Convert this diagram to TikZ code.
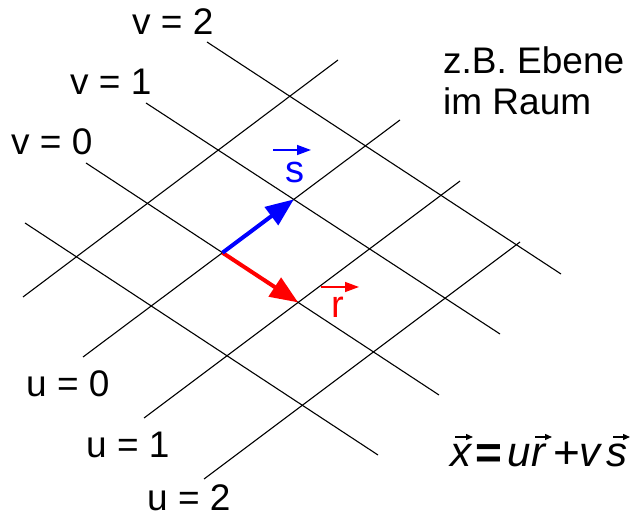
\documentclass[tikz,border=0pt]{standalone}
\usepackage{fontspec}
\setmainfont{Liberation Sans}
\usetikzlibrary{arrows.meta}
\begin{document}
\begin{tikzpicture}[x=1pt,y=-1pt,
  gridline/.style={line width=1.1pt, black},
  lbl/.style={anchor=base west, inner sep=0pt, font=\fontsize{37}{42}\selectfont},
  biglbl/.style={anchor=base west, inner sep=0pt, font=\fontsize{38}{44}\selectfont},
  formlbl/.style={anchor=base west, inner sep=0pt, font=\fontsize{42}{48}\selectfont},
  bigvec/.style={line width=4pt, -{Triangle[length=28pt,width=22pt]}},
  smallvec/.style={line width=1.4pt, -{Triangle[length=14pt,width=10pt]}},
  tinyvec/.style={line width=1.3pt, -{Triangle[length=7pt,width=6pt]}}]
\useasboundingbox (0,0) rectangle (632,518);

% grid line end points
\coordinate (v2a) at (207,42);  \coordinate (v2b) at (561,274);
\coordinate (v1a) at (146,103); \coordinate (v1b) at (500,334);
\coordinate (v0a) at (86,163);  \coordinate (v0b) at (439,395);
\coordinate (vma) at (25,223);  \coordinate (vmb) at (378,455);
\coordinate (uma) at (23,297);  \coordinate (umb) at (338,60);
\coordinate (u0a) at (83,357);  \coordinate (u0b) at (400,120);
\coordinate (u1a) at (144,418); \coordinate (u1b) at (460,181);
\coordinate (u2a) at (204,479); \coordinate (u2b) at (520,242);

\foreach \a/\b in {v2a/v2b,v1a/v1b,v0a/v0b,vma/vmb,uma/umb,u0a/u0b,u1a/u1b,u2a/u2b}
  \draw[gridline] (\a) -- (\b);

\coordinate (O) at (intersection of v0a--v0b and u0a--u0b);
\coordinate (S) at (intersection of v1a--v1b and u0a--u0b);
\coordinate (R) at (intersection of v0a--v0b and u1a--u1b);

\draw[bigvec, red] (O) -- (R);
\draw[bigvec, blue] (O) -- (S);

% labels
\node[lbl] (lv2) at (132,35) {v = 2};
\node[lbl] (lv1) at (70,95) {v = 1};
\node[lbl] (lv0) at (11,155) {v = 0};
\node[lbl] (lu0) at (26,397) {u = 0};
\node[lbl] (lu1) at (86,457) {u = 1};
\node[lbl] (lu2) at (147,510) {u = 2};

\node[lbl] (zb) at (443,74) {z.B. Ebene};
\node[lbl] (raum) at (443,115) {im Raum};

% vector labels
\node[biglbl, text=blue] (slbl) at (285,183) {s};
\coordinate (sa1) at (273,150); \coordinate (sa2) at (311,150);
\draw[smallvec, blue] (sa1) -- (sa2);
\node[biglbl, text=red] (rlbl) at (331,318) {r};
\coordinate (ra1) at (321,287); \coordinate (ra2) at (359,287);
\draw[smallvec, red] (ra1) -- (ra2);

% formula
\node[formlbl] (fx) at (450,467) {\itshape x};
\node[formlbl, font=\fontsize{46}{50}\selectfont\bfseries] (feq) at (475,468) {=};
\node[formlbl] (fu) at (507,467) {\itshape u};
\node[formlbl] (fr) at (531,467) {\itshape r};
\node[formlbl, font=\fontsize{46}{50}\selectfont] (fplus) at (553,468) {+};
\node[formlbl] (fv) at (579,467) {\itshape v};
\node[formlbl] (fs) at (606,467) {\itshape s};
\coordinate (xa1) at (455,437); \coordinate (xa2) at (473,437);
\coordinate (rb1) at (535,437); \coordinate (rb2) at (552,437);
\coordinate (sb1) at (613,437); \coordinate (sb2) at (630,437);
\draw[tinyvec] (xa1) -- (xa2);
\draw[tinyvec] (rb1) -- (rb2);
\draw[tinyvec] (sb1) -- (sb2);
\end{tikzpicture}
\end{document}
